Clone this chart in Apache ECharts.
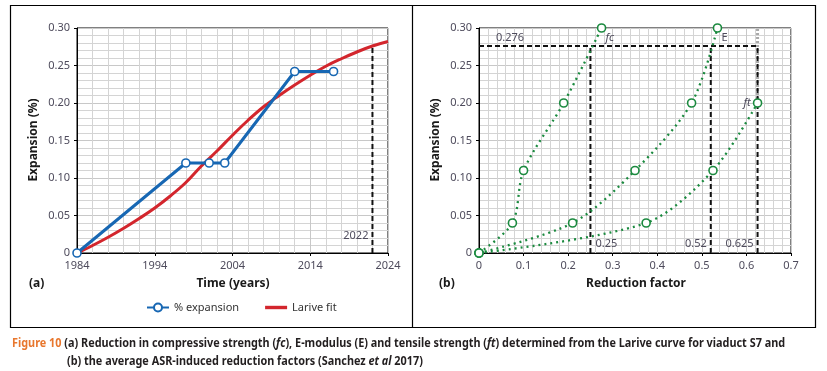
<!DOCTYPE html>
<html>
<head>
<meta charset="utf-8">
<script src="https://cdn.jsdelivr.net/npm/echarts@6/dist/echarts.min.js"></script>
<style>
html, body { margin: 0; padding: 0; background: #fff; }
#chart { width: 827px; height: 371px; }
</style>
</head>
<body>
<div id="chart"></div>
<script>
// (a) expansion over time
var expYears = [1984, 1998, 2001, 2003, 2012, 2017];
var expValues = [0, 0.12, 0.12, 0.12, 0.242, 0.242];
var fitYears = [1984, 1986, 1988, 1990, 1992, 1994, 1996, 1998, 2000, 2002, 2004,
  2006, 2008, 2010, 2012, 2014, 2016, 2018, 2020, 2022, 2024];
var fitValues = [0, 0.010, 0.021, 0.033, 0.046, 0.060, 0.076, 0.094, 0.116, 0.136, 0.157,
  0.177, 0.195, 0.210, 0.224, 0.237, 0.249, 0.259, 0.268, 0.276, 0.282];
var refYear = 2022;
var refExpansion = 0.276;

// (b) reduction factors
var fcFactor = [0, 0.075, 0.1, 0.19, 0.275];
var fcExp = [0, 0.04, 0.11, 0.20, 0.30];
var eFactor = [0, 0.21, 0.35, 0.477, 0.535];
var eExp = [0, 0.04, 0.11, 0.20, 0.30];
var ftFactor = [0, 0.375, 0.525, 0.625];
var ftExp = [0, 0.04, 0.11, 0.20];
var ftTop = 0.30;
var refFactors = [0.25, 0.52, 0.625];

var blue = '#1767b3';
var red = '#d3262d';
var green = '#1b8a3f';
var tickColor = '#4e4b5c';
var font = 'Noto Sans';

function zip(xs, ys) {
  return xs.map(function (x, i) { return [x, ys[i]]; });
}

var chart = echarts.init(document.getElementById('chart'));

function makeAxis(gi, min, max, interval, fmt) {
  return {
    type: 'value', gridIndex: gi, min: min, max: max, interval: interval,
    axisLine: { show: true, onZero: false, lineStyle: { color: '#000', width: 1 } },
    axisTick: { show: true, length: 3, lineStyle: { color: '#000' } },
    axisLabel: { color: tickColor, fontFamily: font, fontSize: 11, margin: 7, formatter: fmt },
    splitLine: { show: true, lineStyle: { color: '#c8c8c8', width: 1 } },
    minorTick: { show: false, splitNumber: 5 },
    minorSplitLine: { show: true, lineStyle: { color: '#d4d4d4', width: 1 } }
  };
}
var yFmt = function (v) { return v === 0 ? '0' : v.toFixed(2); };
var plainFmt = function (v) { return String(v); };
var dashed = { color: '#111', width: 2, type: [5, 3] };

var series = [
  {
    name: 'Larive fit', type: 'line', xAxisIndex: 0, yAxisIndex: 0,
    data: zip(fitYears, fitValues), smooth: 0.4, showSymbol: false, symbol: 'none',
    lineStyle: { color: red, width: 3 }, itemStyle: { color: red }, z: 3
  },
  {
    name: '% expansion', type: 'line', xAxisIndex: 0, yAxisIndex: 0,
    data: zip(expYears, expValues), symbol: 'circle', symbolSize: 8,
    lineStyle: { color: blue, width: 3 },
    itemStyle: { color: '#fff', borderColor: blue, borderWidth: 1.6 }, z: 4
  },
  {
    type: 'line', xAxisIndex: 0, yAxisIndex: 0, symbol: 'none',
    data: [[refYear, 0], [refYear, refExpansion]], lineStyle: dashed, z: 5
  },
  {
    type: 'line', xAxisIndex: 1, yAxisIndex: 1, symbol: 'none',
    data: [[ftFactor[ftFactor.length - 1], ftExp[ftExp.length - 1]], [ftFactor[ftFactor.length - 1], ftTop]],
    lineStyle: { color: '#a8a8a8', width: 3, type: [2, 2] }, z: 2
  },
  {
    type: 'line', xAxisIndex: 1, yAxisIndex: 1, symbol: 'none',
    data: [[0, refExpansion], [refFactors[refFactors.length - 1], refExpansion]], lineStyle: dashed, z: 3
  }
];
refFactors.forEach(function (f) {
  series.push({
    type: 'line', xAxisIndex: 1, yAxisIndex: 1, symbol: 'none',
    data: [[f, 0], [f, refExpansion]], lineStyle: dashed, z: 3
  });
});
[[fcFactor, fcExp], [eFactor, eExp], [ftFactor, ftExp]].forEach(function (s) {
  series.push({
    type: 'line', xAxisIndex: 1, yAxisIndex: 1, data: zip(s[0], s[1]), smooth: 0.3,
    symbol: 'circle', symbolSize: 8,
    lineStyle: { color: green, width: 2.3, type: [2, 4] },
    itemStyle: { color: '#fff', borderColor: green, borderWidth: 1.6 }, z: 4
  });
});

chart.setOption({
  animation: false,
  backgroundColor: '#fff',
  grid: [
    { left: 77, right: 439, top: 28, bottom: 118, show: true, borderColor: '#000', borderWidth: 1 },
    { left: 479, right: 36, top: 28, bottom: 118, show: true, borderColor: '#000', borderWidth: 1 }
  ],
  xAxis: [
    makeAxis(0, 1984, 2024, 10, plainFmt),
    makeAxis(1, 0, 0.7, 0.1, plainFmt)
  ],
  yAxis: [
    makeAxis(0, 0, 0.3, 0.05, yFmt),
    makeAxis(1, 0, 0.3, 0.05, yFmt)
  ],
  legend: {
    data: ['% expansion', { name: 'Larive fit', icon: 'path://M0,0 H22 V3.4 H0 Z' }],
    left: 141, top: 297,
    itemWidth: 22, itemHeight: 10, itemGap: 26,
    textStyle: { fontFamily: font, fontSize: 11, color: '#333' }
  },
  series: series
});

function px(gi, p) { return chart.convertToPixel({ gridIndex: gi }, p); }

var a0 = px(0, [refYear, 0]);
var b276 = px(1, [0, refExpansion]);
var fcTop = px(1, [fcFactor[fcFactor.length - 1], fcExp[fcExp.length - 1]]);
var eTop = px(1, [eFactor[eFactor.length - 1], eExp[eExp.length - 1]]);
var ftEnd = px(1, [ftFactor[ftFactor.length - 1], ftExp[ftExp.length - 1]]);
var r = refFactors.map(function (f) { return px(1, [f, 0]); });

function label(x, y, text, align, extra) {
  return {
    type: 'text', x: x, y: y, z: 20,
    style: Object.assign({
      text: text, fill: tickColor, font: '11px "' + font + '"',
      align: align || 'left', verticalAlign: 'middle'
    }, extra || {})
  };
}
var italic = { font: 'italic 11px "' + font + '"' };
var bold12 = 'bold 12px "' + font + '"';

// caption: condensed look by squeezing a normal font horizontally
var capFont = 'bold 13px "Noto Sans"';
var cap1 = 'Figure 10 (a) Reduction in compressive strength (fc), E-modulus (E) and tensile strength (ft) determined from the Larive curve for viaduct S7 and';
var ctx = document.createElement('canvas').getContext('2d');
ctx.font = capFont;
var capScale = 774 / ctx.measureText(cap1).width;

chart.setOption({
  graphic: [
    { type: 'rect', shape: { x: 10.5, y: 5.5, width: 805, height: 322 }, style: { fill: 'none', stroke: '#000', lineWidth: 1.2 }, z: 0, silent: true },
    { type: 'line', shape: { x1: 412.5, y1: 5.5, x2: 412.5, y2: 327.5 }, style: { stroke: '#000', lineWidth: 1.2 }, z: 0 },
    label(a0[0] - 4, a0[1] - 17, '2022', 'right'),
    label(b276[0] + 17, b276[1] - 8, '0.276', 'left'),
    label(fcTop[0] + 4, fcTop[1] + 10, 'fc', 'left', italic),
    label(eTop[0] + 4, eTop[1] + 10, 'E', 'left'),
    label(ftEnd[0] - 7, ftEnd[1], 'ft', 'right', italic),
    label(r[0][0] + 5, r[0][1] - 9, '0.25', 'left'),
    label(r[1][0] - 4, r[1][1] - 9, '0.52', 'right'),
    label(r[2][0] - 4, r[2][1] - 9, '0.625', 'right'),
    label(233, 284, 'Time (years)', 'center', { font: bold12, fill: '#1a1a1a' }),
    label(636, 284, 'Reduction factor', 'center', { font: bold12, fill: '#1a1a1a' }),
    label(29, 284, '(a)', 'left', { font: bold12, fill: '#1a1a1a' }),
    label(439, 284, '(b)', 'left', { font: bold12, fill: '#1a1a1a' }),
    {
      type: 'text', x: 34, y: 140, rotation: Math.PI / 2, z: 20,
      style: { text: 'Expansion (%)', font: bold12, fill: '#1a1a1a', align: 'center', verticalAlign: 'middle' }
    },
    {
      type: 'text', x: 436, y: 140, rotation: Math.PI / 2, z: 20,
      style: { text: 'Expansion (%)', font: bold12, fill: '#1a1a1a', align: 'center', verticalAlign: 'middle' }
    },
    {
      type: 'text', x: 12, y: 343, z: 20, scaleX: capScale,
      style: {
        text: '{o|Figure 10} (a) Reduction in compressive strength ({i|fc}), E-modulus (E) and tensile strength ({i|ft}) determined from the Larive curve for viaduct S7 and',
        font: capFont, fill: '#231f20', verticalAlign: 'middle',
        rich: {
          o: { fill: '#e8772e', font: capFont },
          i: { font: 'italic ' + capFont, fill: '#231f20' }
        }
      }
    },
    {
      type: 'text', x: 67, y: 361, z: 20, scaleX: capScale,
      style: {
        text: '(b) the average ASR-induced reduction factors (Sanchez {i|et al} 2017)',
        font: capFont, fill: '#231f20', verticalAlign: 'middle',
        rich: { i: { font: 'italic ' + capFont, fill: '#231f20' } }
      }
    }
  ]
});
</script>
</body>
</html>
